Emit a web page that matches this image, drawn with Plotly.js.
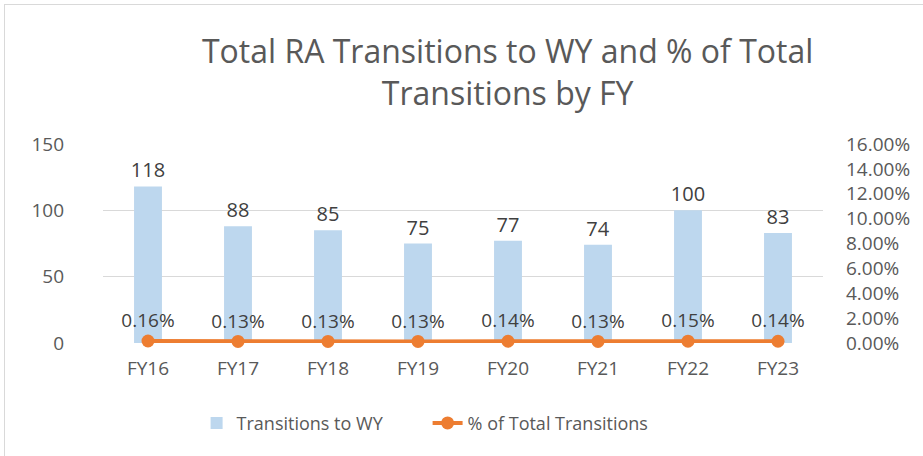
<!DOCTYPE html>
<html>
<head>
<meta charset="utf-8">
<script src="https://cdn.plot.ly/plotly-3.0.1.min.js"></script>
<style>
  html, body { margin: 0; padding: 0; background: #fff; }
  #wrap { position: relative; width: 923px; height: 456px; overflow: hidden; }
  #frame { position: absolute; left: 4px; top: 4px; width: 930px; height: 460px; border: 1px solid #d9d9d9; box-sizing: border-box; pointer-events: none; }
  #chart { position: absolute; left: 0; top: 0; width: 923px; height: 456px; }
</style>
</head>
<body>
<div id="wrap">
  <div id="chart"></div>
  <div id="frame"></div>
</div>
<script>
const categories = ["FY16", "FY17", "FY18", "FY19", "FY20", "FY21", "FY22", "FY23"];
const transitions = [118, 88, 85, 75, 77, 74, 100, 83];
const pctOfTotal = [0.0016, 0.0013, 0.0013, 0.0013, 0.0014, 0.0013, 0.0015, 0.0014];
const leftTicks = [0, 50, 100, 150];
const rightTicks = [0, 0.02, 0.04, 0.06, 0.08, 0.10, 0.12, 0.14, 0.16];

const fontFam = "Open Sans, Liberation Sans, sans-serif";
const txt = "#595959";

const traces = [
  {
    type: "bar",
    name: "Transitions to WY",
    x: categories,
    y: transitions,
    marker: { color: "#BDD7EE" },
    text: transitions.map(String),
    textposition: "outside",
    constraintext: "none",
    cliponaxis: false,
    textfont: { family: fontFam, size: 20, color: "#404040" },
    hoverinfo: "x+y"
  },
  {
    type: "scatter",
    mode: "lines+markers+text",
    name: "% of Total Transitions",
    x: categories,
    y: pctOfTotal,
    yaxis: "y2",
    line: { color: "#ED7D31", width: 4 },
    marker: { color: "#ED7D31", size: 13 },
    text: pctOfTotal.map(v => (v * 100).toFixed(2) + "%"),
    textposition: "top center",
    cliponaxis: false,
    textfont: { family: fontFam, size: 19, color: "#404040" }
  }
];

const layout = {
  width: 923,
  height: 456,
  paper_bgcolor: "#fff",
  plot_bgcolor: "#fff",
  margin: { l: 103, r: 100, t: 144, b: 113 },
  font: { family: fontFam, color: txt, size: 16 },
  title: {
    text: "Total RA Transitions to WY and % of Total<br>Transitions by FY",
    font: { family: fontFam, size: 32, color: txt },
    x: 0.562, xanchor: "center",
    y: 0.862, yanchor: "top",
    xref: "paper", yref: "container"
  },
  bargap: 0.69,
  showlegend: true,
  legend: {
    orientation: "h",
    x: 0.13, xanchor: "left",
    y: -0.31, yanchor: "top",
    font: { family: fontFam, size: 18, color: txt },
    entrywidth: 186,
    entrywidthmode: "pixels",
    traceorder: "normal"
  },
  xaxis: {
    type: "category",
    showgrid: false,
    showline: false,
    zeroline: false,
    ticks: "",
    tickfont: { family: fontFam, size: 19, color: txt },
    ticklabelstandoff: 12
  },
  yaxis: {
    range: [0, 150],
    tickvals: leftTicks,
    ticktext: leftTicks.map(String),
    showgrid: true,
    gridcolor: "#d9d9d9",
    gridwidth: 1.5,
    zeroline: false,
    showline: false,
    ticks: "",
    ticklabelstandoff: 38,
    tickfont: { family: fontFam, size: 19, color: txt }
  },
  yaxis2: {
    overlaying: "y",
    side: "right",
    range: [0, 0.16],
    tickvals: rightTicks,
    ticktext: rightTicks.map(v => (v * 100).toFixed(2) + "%"),
    showgrid: false,
    zeroline: false,
    showline: false,
    ticks: "",
    ticklabelstandoff: 22,
    tickfont: { family: fontFam, size: 19, color: txt }
  }
};

Plotly.newPlot("chart", traces, layout, { displayModeBar: false, staticPlot: true });
</script>
</body>
</html>
